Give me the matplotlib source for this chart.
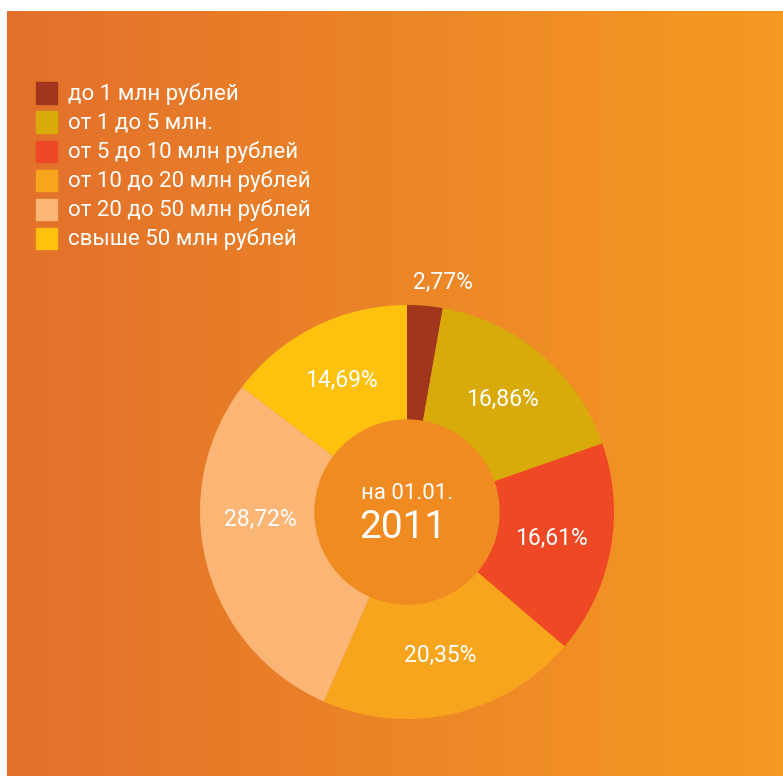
import numpy as np
import matplotlib.pyplot as plt
from matplotlib.colors import LinearSegmentedColormap
from matplotlib.patches import Circle, Rectangle

plt.rcParams['font.family'] = ['Roboto', 'DejaVu Sans']

# data
categories = ['до 1 млн рублей', 'от 1 до 5 млн.', 'от 5 до 10 млн рублей',
              'от 10 до 20 млн рублей', 'от 20 до 50 млн рублей', 'свыше 50 млн рублей']
shares = [2.77, 16.86, 16.61, 20.35, 28.72, 14.69]
labels = ['2,77%', '16,86%', '16,61%', '20,35%', '28,72%', '14,69%']
colors = ['#A2361D', '#D8AB0B', '#EE4924', '#F8A51E', '#FBB574', '#FEC20E']

W, H = 783, 776
fig = plt.figure(figsize=(W / 100, H / 100), dpi=100)
fig.patch.set_facecolor('white')

# orange gradient background
bg = fig.add_axes([7 / W, 0, 1 - 7 / W, 1 - 11 / H])
cmap = LinearSegmentedColormap.from_list('bg', ['#E2702B', '#EC8527', '#F69A22'])
bg.imshow(np.linspace(0, 1, 256).reshape(1, -1), cmap=cmap, aspect='auto',
          extent=[0, 1, 0, 1])
bg.set_axis_off()

# legend
for i, (cat, col) in enumerate(zip(categories, colors)):
    yc = 93 + 29 * i
    fig.patches.append(Rectangle((36 / W, 1 - (yc + 10.5) / H), 21 / W, 21 / H,
                                 transform=fig.transFigure, color=col))
    fig.text(68 / W, 1 - (yc + 1) / H, cat, color='white', fontsize=16,
             va='center', ha='left')

# donut
cx, cy, R, half = 407, 512, 207, 222
ax = fig.add_axes([(cx - half) / W, 1 - (cy + half) / H, 2 * half / W, 2 * half / H])
ax.pie(shares, colors=colors, startangle=90, counterclock=False, radius=1,
       wedgeprops=dict(linewidth=0))
ax.add_patch(Circle((0, 0), 92 / R, color='#F08B22', zorder=3))
ax.set_xlim(-half / R, half / R)
ax.set_ylim(-half / R, half / R)
ax.set_aspect('equal')
ax.set_axis_off()

# percentage labels (first one sits outside, 28,72% is nudged up like the original)
start = 90
for i, (s, lab) in enumerate(zip(shares, labels)):
    mid = np.deg2rad(start - s * 3.6 / 2)
    start -= s * 3.6
    if i == 0:
        x, y = 0.174, 1.11
    else:
        if i == 4:
            mid = np.deg2rad(183)
        x, y = 0.71 * np.cos(mid), 0.71 * np.sin(mid)
    ax.text(x, y, lab, color='white', fontsize=16.5,
            ha='center', va='center', zorder=4)

ax.text(0, 0.09, 'на 01.01.', color='white', fontsize=16,
        ha='center', va='center', zorder=4)
ax.text(-0.02, -0.075, '2011', color='white', fontsize=28,
        ha='center', va='center', zorder=4)

fig.savefig('out.png', dpi=100)
